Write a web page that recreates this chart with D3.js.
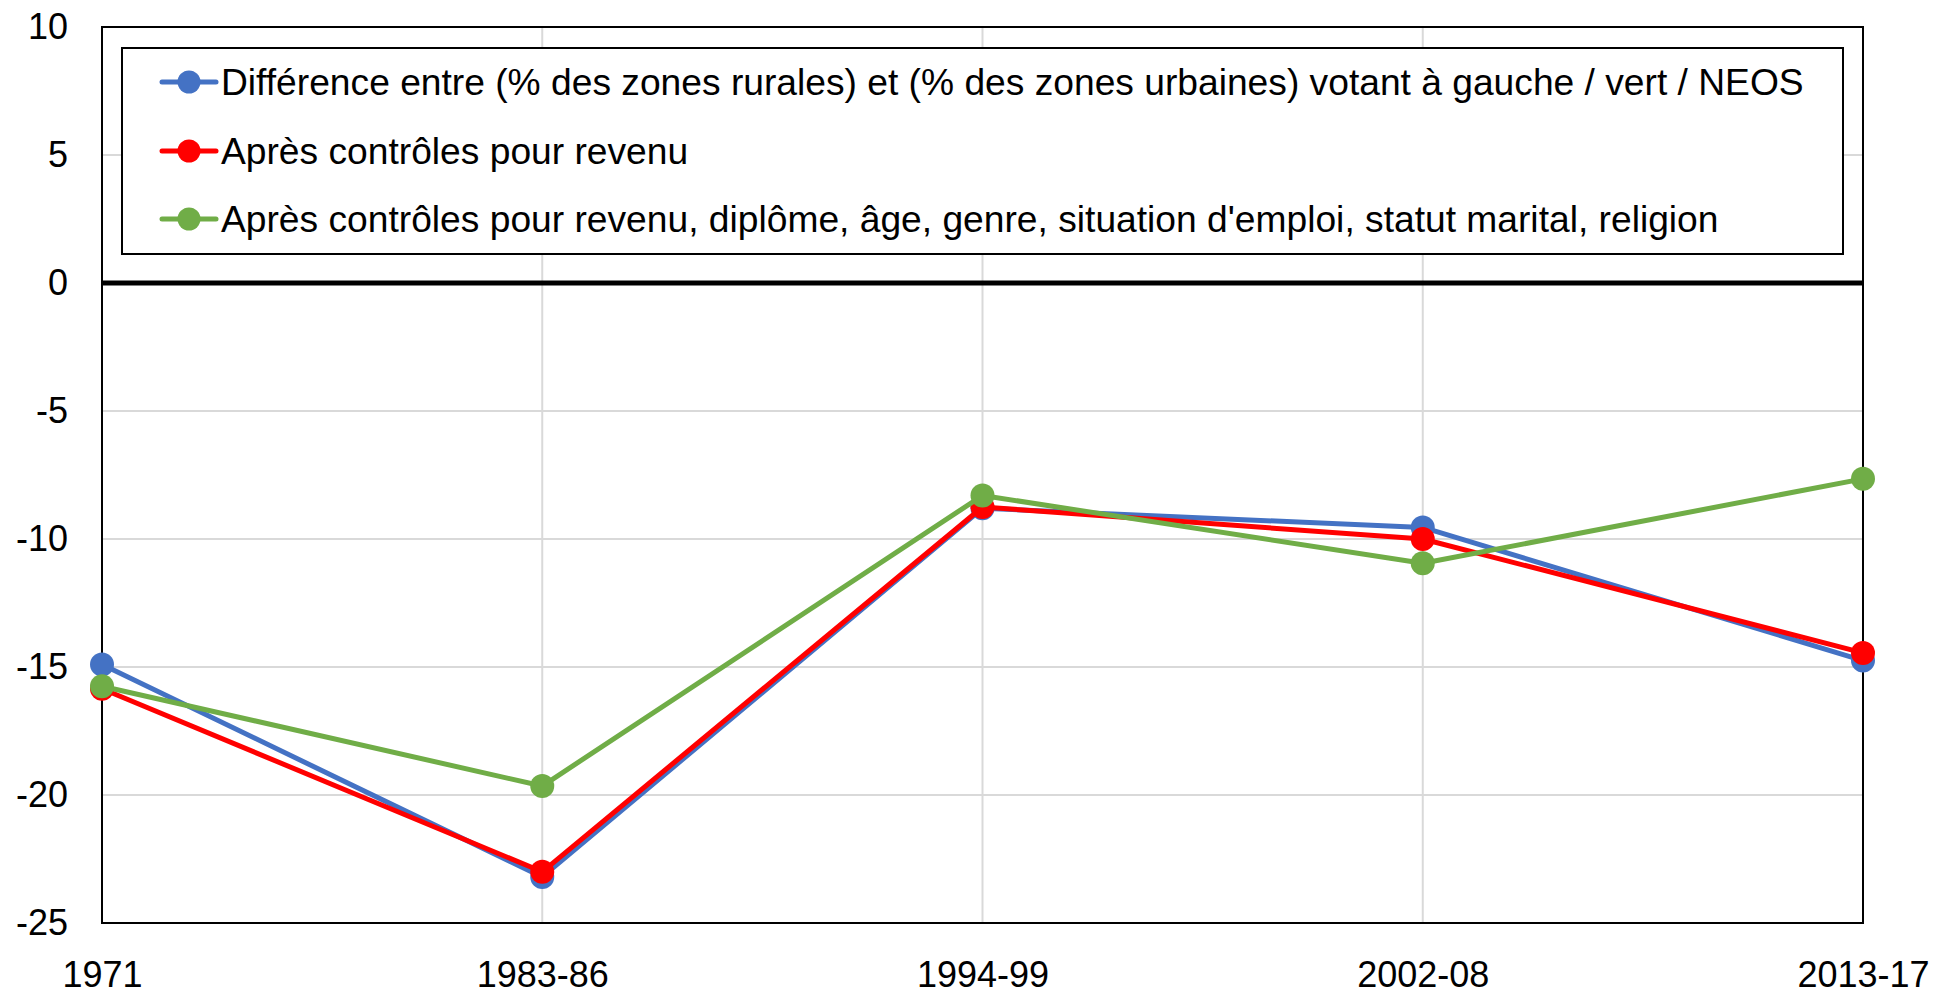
<!DOCTYPE html>
<html>
<head>
<meta charset="utf-8">
<script src="https://cdn.jsdelivr.net/npm/d3@7"></script>
<style>
  body { margin: 0; background: #fff; }
  svg { display: block; }
  text { font-family: "Liberation Sans", Arial, sans-serif; fill: #000; }
</style>
</head>
<body>
<svg id="chart" width="1953" height="995"></svg>
<script>
// categories and series
var periods = ["1971", "1983-86", "1994-99", "2002-08", "2013-17"];
var seriesNames = [
  "Différence entre (% des zones rurales) et (% des zones urbaines) votant à gauche / vert / NEOS",
  "Après contrôles pour revenu",
  "Après contrôles pour revenu, diplôme, âge, genre, situation d'emploi, statut marital, religion"
];
var rawDiff = [-14.9, -23.2, -8.8, -9.55, -14.75];
var incomeCtrl = [-15.85, -23.0, -8.75, -10.0, -14.45];
var fullCtrl = [-15.75, -19.65, -8.3, -10.95, -7.65];
var yTicks = [10, 5, 0, -5, -10, -15, -20, -25];
var colors = ["#4472C4", "#FF0000", "#70AD47"];

var svg = d3.select("#chart"),
    margin = {top: 27, right: 90, bottom: 72, left: 102},
    width = 1953 - margin.left - margin.right,
    height = 995 - margin.top - margin.bottom;

var x = d3.scalePoint().domain(periods).range([0, width]).padding(0);
var y = d3.scaleLinear().domain([-25, 10]).range([height, 0]);

var g = svg.append("g")
  .attr("transform", "translate(" + margin.left + "," + margin.top + ")");

// grid
g.selectAll(".hgrid")
  .data(yTicks)
  .enter().append("line")
    .attr("x1", 0).attr("x2", width)
    .attr("y1", function(d) { return y(d); })
    .attr("y2", function(d) { return y(d); })
    .attr("stroke", "#d9d9d9").attr("stroke-width", 2);

g.selectAll(".vgrid")
  .data(periods)
  .enter().append("line")
    .attr("x1", function(d) { return x(d); })
    .attr("x2", function(d) { return x(d); })
    .attr("y1", 0).attr("y2", height)
    .attr("stroke", "#d9d9d9").attr("stroke-width", 2);

// plot frame
g.append("rect")
  .attr("width", width).attr("height", height)
  .attr("fill", "none").attr("stroke", "#000").attr("stroke-width", 2);

// zero line
g.append("line")
  .attr("x1", 0).attr("x2", width)
  .attr("y1", y(0)).attr("y2", y(0))
  .attr("stroke", "#000").attr("stroke-width", 5);

// axes (labels only), plain hyphen for negatives like the source
var yAxis = g.append("g")
  .call(d3.axisLeft(y).tickValues(yTicks).tickSize(0).tickPadding(34)
    .tickFormat(function(d) { return String(d); }));
yAxis.select(".domain").remove();
yAxis.selectAll("text")
  .style("font-size", "36px")
  .attr("font-family", null);

var xAxis = g.append("g")
  .attr("transform", "translate(0," + height + ")")
  .call(d3.axisBottom(x).tickSize(0).tickPadding(0));
xAxis.select(".domain").remove();
xAxis.selectAll("text")
  .attr("y", 64).attr("dy", null)
  .style("font-size", "36px")
  .attr("font-family", null);

// series
var allSeries = [rawDiff, incomeCtrl, fullCtrl];
var line = d3.line()
  .x(function(d, i) { return x(periods[i]); })
  .y(function(d) { return y(d); });

allSeries.forEach(function(vals, s) {
  g.append("path")
    .datum(vals)
    .attr("d", line)
    .attr("fill", "none")
    .attr("stroke", colors[s])
    .attr("stroke-width", 5)
    .attr("stroke-linejoin", "round");
  g.selectAll(".pt" + s)
    .data(vals)
    .enter().append("circle")
      .attr("cx", function(d, i) { return x(periods[i]); })
      .attr("cy", function(d) { return y(d); })
      .attr("r", 12)
      .attr("fill", colors[s]);
});

// legend
var legend = svg.append("g").attr("transform", "translate(122,48)");
legend.append("rect")
  .attr("width", 1721).attr("height", 206)
  .attr("fill", "#fff").attr("stroke", "#000").attr("stroke-width", 2);

var rowY = [34, 103, 171];
seriesNames.forEach(function(name, s) {
  var row = legend.append("g").attr("transform", "translate(0," + rowY[s] + ")");
  row.append("line")
    .attr("x1", 40).attr("x2", 94)
    .attr("stroke", colors[s]).attr("stroke-width", 5)
    .attr("stroke-linecap", "round");
  row.append("circle")
    .attr("cx", 67).attr("r", 11.5)
    .attr("fill", colors[s]);
  row.append("text")
    .attr("x", 99).attr("dy", "0.36em")
    .style("font-size", "37.2px")
    .text(name);
});
</script>
</body>
</html>
